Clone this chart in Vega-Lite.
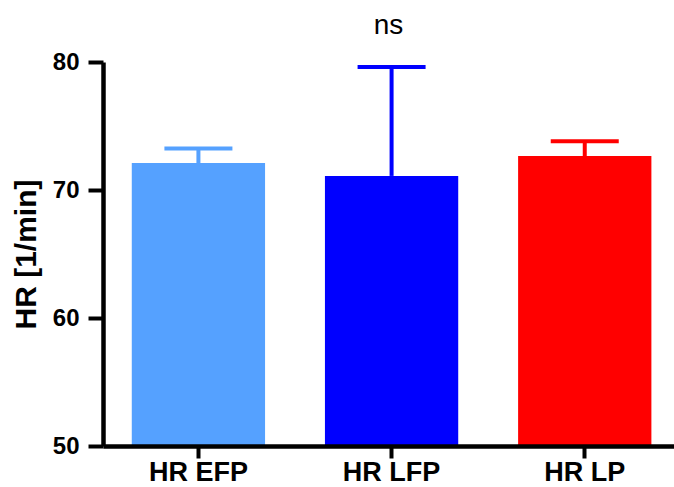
{
  "$schema": "https://vega.github.io/schema/vega-lite/v6.json",
  "width": 571,
  "height": 384,
  "autosize": {"type": "none"},
  "padding": {"left": 103, "top": 62, "right": 0, "bottom": 41},
  "background": "white",
  "title": {
    "text": "ns",
    "fontSize": 28,
    "fontWeight": "normal",
    "font": "Liberation Sans",
    "color": "black",
    "anchor": "middle",
    "offset": 10
  },
  "data": {
    "values": [
      {"group": "HR EFP", "mean": 72.1, "upper": 73.25},
      {"group": "HR LFP", "mean": 71.1, "upper": 79.6},
      {"group": "HR LP", "mean": 72.65, "upper": 73.8}
    ]
  },
  "config": {
    "view": {"stroke": null},
    "axis": {
      "grid": false,
      "domainColor": "black",
      "domainWidth": 4.5,
      "tickColor": "black",
      "tickWidth": 4,
      "labelColor": "black",
      "labelFont": "Liberation Sans",
      "labelFontWeight": "bold",
      "titleColor": "black",
      "titleFont": "Liberation Sans",
      "titleFontWeight": "bold"
    }
  },
  "encoding": {
    "x": {
      "field": "group",
      "type": "nominal",
      "sort": null,
      "scale": {"paddingInner": 0.31, "paddingOuter": 0.133, "align": 0.56},
      "axis": {
        "title": null,
        "labelAngle": 0,
        "labelFontSize": 27,
        "tickSize": 12,
        "labelPadding": 1,
        "zindex": 1
      }
    }
  },
  "layer": [
    {
      "mark": {"type": "bar", "clip": true},
      "encoding": {
        "y": {
          "field": "mean",
          "type": "quantitative",
          "scale": {"domain": [50, 80], "zero": false, "nice": false},
          "axis": {
            "title": "HR [1/min]",
            "titleFontSize": 30,
            "titlePadding": 11,
            "values": [50, 60, 70, 80],
            "labelFontSize": 24,
            "tickSize": 15,
            "labelPadding": 9,
            "zindex": 1
          }
        },
        "y2": {"datum": 50},
        "color": {
          "field": "group",
          "type": "nominal",
          "sort": null,
          "scale": {"range": ["#55a1ff", "#0000ff", "#ff0000"]},
          "legend": null
        }
      }
    },
    {
      "mark": {"type": "rule", "strokeWidth": 4, "opacity": 1},
      "encoding": {
        "y": {"field": "mean", "type": "quantitative"},
        "y2": {"field": "upper"},
        "color": {"field": "group", "type": "nominal", "sort": null, "legend": null}
      }
    },
    {
      "mark": {"type": "tick", "thickness": 4, "size": 68, "opacity": 1},
      "encoding": {
        "y": {"field": "upper", "type": "quantitative"},
        "color": {"field": "group", "type": "nominal", "sort": null, "legend": null}
      }
    }
  ]
}
